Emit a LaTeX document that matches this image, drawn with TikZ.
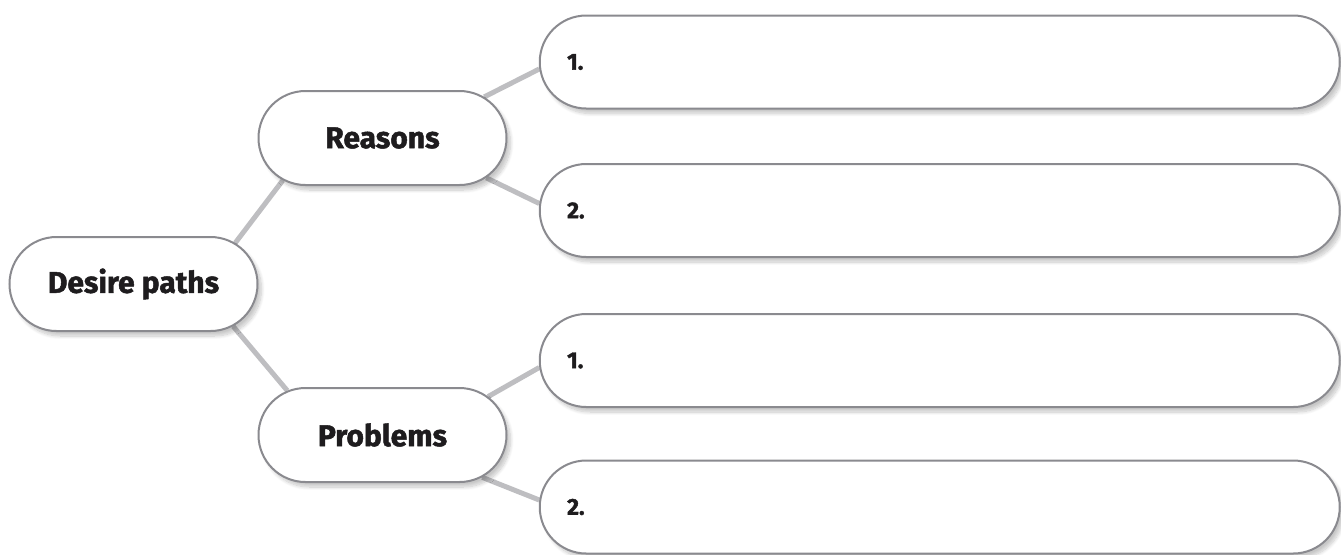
\documentclass[tikz,border=0pt]{standalone}
\usepackage{fontspec}
\newfontfamily\heavyfont{Fira Sans}[BoldFeatures={FakeBold=1.6}]
\usetikzlibrary{shapes.misc,backgrounds,shadows.blur}
\definecolor{mapedge}{RGB}{138,138,143}
\definecolor{maplink}{RGB}{190,190,193}
\definecolor{mapink}{RGB}{30,28,30}
\tikzset{
  bubble/.style={rounded rectangle, draw=mapedge, fill=white, line width=1pt,
                 minimum width=124pt, minimum height=47pt, inner sep=0pt,
                 text=mapink, font=\heavyfont\bfseries\fontsize{15}{18}\selectfont,
                 blur shadow={shadow xshift=2pt, shadow yshift=-2.5pt,
                              shadow blur steps=10, shadow opacity=22}},
  answer/.style={bubble, minimum width=400pt, minimum height=46.5pt},
  numtag/.style={anchor=west, xshift=14pt, inner sep=0pt, text=mapink,
                 font=\heavyfont\bfseries\fontsize{11.5}{13}\selectfont},
  link/.style={draw=maplink, line width=2.5pt},
}
\begin{document}
\begin{tikzpicture}[x=0.5pt, y=-0.5pt]
    \useasboundingbox (0,0) rectangle (1341,554);
    % middle column
    \node[bubble] (desire) at (133.5,284) {Desire paths};
    \node[bubble] (reasons) at (382.5,138) {Reasons};
    \node[bubble] (problems) at (382.5,435) {Problems};
    % answer boxes
    \node[answer, label={[numtag]west:1.}] (reasonA) at (939.75,62) {};
    \node[answer, label={[numtag]west:2.}] (reasonB) at (939.75,210.5) {};
    \node[answer, label={[numtag]west:1.}] (problemA) at (939.75,360.5) {};
    \node[answer, label={[numtag]west:2.}] (problemB) at (939.75,507) {};
    \begin{scope}[on background layer]
      \draw[link] (desire.22) -- (reasons.203);
      \draw[link] (desire.-23) -- (problems.155);
      \draw[link] (reasons.22) -- (reasonA.181.4);
      \draw[link] (reasons.-21) -- (reasonB.179.2);
      \draw[link] (problems.20) -- (problemA.181.6);
      \draw[link] (problems.-23) -- (problemB.179.7);
    \end{scope}
  \end{tikzpicture}
\end{document}
